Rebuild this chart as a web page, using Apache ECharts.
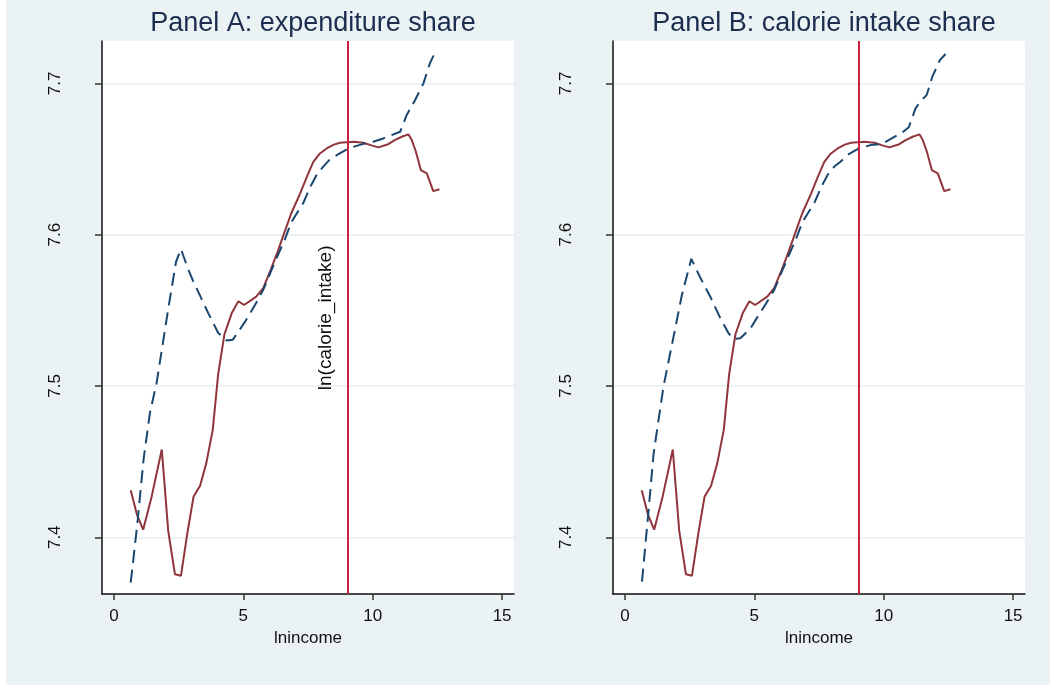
<!DOCTYPE html>
<html>
<head>
<meta charset="utf-8">
<script src="https://cdn.jsdelivr.net/npm/echarts@6/dist/echarts.min.js"></script>
<style>
  html, body { margin: 0; padding: 0; background: #fff; }
  #chart { width: 1050px; height: 685px; }
</style>
</head>
<body>
<div id="chart"></div>
<script>
// red solid line (same in both panels)
var redX = [0.65, 0.89, 1.13, 1.46, 1.85, 2.1, 2.36, 2.59, 2.85, 3.08, 3.33, 3.57, 3.82, 4.03, 4.27, 4.55, 4.81, 5.03, 5.5, 5.77, 6.03, 6.33, 6.6, 6.85, 7.19, 7.45, 7.7, 7.95, 8.22, 8.5, 8.74, 9.0, 9.25, 9.64, 9.95, 10.22, 10.6, 10.85, 11.12, 11.38, 11.51, 11.67, 11.86, 12.09, 12.34, 12.58];
var redY = [7.431, 7.415, 7.405, 7.427, 7.458, 7.404, 7.3755, 7.3745, 7.404, 7.427, 7.434, 7.449, 7.471, 7.508, 7.534, 7.548, 7.556, 7.5535, 7.559, 7.5646, 7.5755, 7.589, 7.602, 7.614, 7.627, 7.638, 7.648, 7.6535, 7.657, 7.6595, 7.6607, 7.661, 7.6614, 7.6607, 7.659, 7.6577, 7.6598, 7.6625, 7.6647, 7.6663, 7.6625, 7.6548, 7.6427, 7.6405, 7.6288, 7.63];

// blue dashed line, panel A
var blueAX = [0.65, 0.9, 1.15, 1.39, 1.65, 1.88, 2.1, 2.4, 2.59, 2.85, 3.07, 3.32, 3.65, 4.03, 4.36, 4.59, 4.81, 5.05, 5.26, 5.5, 5.77, 6.1, 6.35, 6.61, 6.85, 7.1, 7.32, 7.6, 7.85, 8.09, 8.35, 8.61, 9.06, 9.57, 10.02, 10.41, 10.73, 11.06, 11.31, 11.64, 11.96, 12.21, 12.34, 12.58];
var blueAY = [7.37, 7.408, 7.452, 7.482, 7.502, 7.527, 7.551, 7.582, 7.5905, 7.578, 7.569, 7.56, 7.548, 7.535, 7.53, 7.5305, 7.536, 7.542, 7.548, 7.555, 7.5635, 7.577, 7.587, 7.597, 7.608, 7.615, 7.621, 7.632, 7.64, 7.645, 7.6498, 7.6525, 7.657, 7.6597, 7.6614, 7.6636, 7.6658, 7.668, 7.679, 7.689, 7.7, 7.7132, 7.718, 7.7172];

// blue dashed line, panel B
var blueBX = [0.66, 0.9, 1.11, 1.49, 1.88, 2.2, 2.565, 2.9, 3.3, 3.69, 4.0, 4.2, 4.46, 4.85, 5.1, 5.4, 5.77, 6.1, 6.35, 6.61, 6.85, 7.1, 7.32, 7.6, 7.85, 8.09, 8.33, 8.59, 9.04, 9.49, 9.94, 10.26, 10.72, 10.97, 11.23, 11.42, 11.66, 11.88, 12.17, 12.39];
var blueBY = [7.3707, 7.415, 7.4555, 7.4995, 7.5326, 7.56, 7.584, 7.572, 7.559, 7.5447, 7.535, 7.531, 7.5315, 7.538, 7.545, 7.553, 7.5635, 7.577, 7.587, 7.597, 7.608, 7.615, 7.621, 7.632, 7.64, 7.645, 7.6482, 7.6526, 7.657, 7.6592, 7.66, 7.6632, 7.6676, 7.671, 7.6835, 7.688, 7.6923, 7.7044, 7.7154, 7.7194];

var titles = ['Panel A: expenditure share', 'Panel B: calorie intake share'];
var xTicks = [0, 5, 10, 15];
var yTicks = [7.4, 7.5, 7.6, 7.7];
var vlineX = [9.03, 9.04];
var vlineLabel = 'ln(calorie_intake)';

function zip(xs, ys) {
    var out = [];
    for (var i = 0; i < xs.length; i++) out.push([xs[i], ys[i]]);
    return out;
}

var bg = '#eaf2f3';
var font = 'Liberation Sans, Arial, sans-serif';
var lefts = [102, 613];

var chart = echarts.init(document.getElementById('chart'));

var grids = [], xAxes = [], yAxes = [], tits = [], series = [];
for (let p = 0; p < 2; p++) {
    grids.push({
        left: lefts[p], top: 41, width: 412, height: 553,
        show: true, backgroundColor: '#fff', borderWidth: 0
    });
    tits.push({
        text: titles[p],
        left: lefts[p] + 206, top: 5, textAlign: 'center',
        textStyle: { fontFamily: font, fontSize: 27, fontWeight: 'normal', color: '#1c2d4f' }
    });
    xAxes.push({
        gridIndex: p, type: 'value', min: -0.46, max: 15.46,
        name: 'lnincome', nameLocation: 'middle', nameGap: 34,
        nameTextStyle: { fontFamily: font, fontSize: 17, color: '#111' },
        axisLine: { onZero: false, lineStyle: { color: '#111', width: 1.5 } },
        axisTick: { customValues: xTicks, length: 6, lineStyle: { color: '#333', width: 1.5 } },
        axisLabel: { customValues: xTicks, margin: 14, fontFamily: font, fontSize: 17, color: '#111' },
        splitLine: { show: false }
    });
    yAxes.push({
        gridIndex: p, type: 'value', min: 7.3625, max: 7.728,
        axisLine: { show: true, onZero: false, lineStyle: { color: '#111', width: 1.5 } },
        axisTick: { customValues: yTicks, length: 7, lineStyle: { color: '#333', width: 1.5 } },
        axisLabel: {
            customValues: yTicks, rotate: 90, margin: 38, fontFamily: font, fontSize: 17, color: '#111',
            formatter: function (v) { return v.toFixed(1); }
        },
        splitLine: { show: true, lineStyle: { color: bg, width: 2 } }
    });
    series.push({
        type: 'line', xAxisIndex: p, yAxisIndex: p,
        data: zip(redX, redY), symbol: 'none', z: 3,
        lineStyle: { color: '#90353b', width: 2 }
    });
    series.push({
        type: 'line', xAxisIndex: p, yAxisIndex: p,
        data: p === 0 ? zip(blueAX, blueAY) : zip(blueBX, blueBY), symbol: 'none', z: 3,
        lineStyle: { color: '#1a476f', width: 2, type: [13, 7] },
        markLine: {
            silent: true, symbol: 'none', animation: false,
            lineStyle: { color: '#cc1f3f', width: 2, type: 'solid' },
            label: { show: false },
            data: [{ xAxis: vlineX[p] }]
        },
        markPoint: p === 0 ? {
            silent: true, symbol: 'circle', symbolSize: 0, animation: false,
            itemStyle: { color: 'transparent' },
            label: {
                show: true, position: 'inside', rotate: 90, offset: [0, -22], formatter: vlineLabel,
                fontFamily: font, fontSize: 19, color: '#111'
            },
            data: [{ coord: [vlineX[p], 7.545] }]
        } : undefined
    });
}

chart.setOption({
    backgroundColor: bg,
    animation: false,
    title: tits,
    grid: grids,
    xAxis: xAxes,
    yAxis: yAxes,
    series: series,
    graphic: [{ type: 'rect', shape: { x: 0, y: 0, width: 6, height: 685 }, style: { fill: '#fff' }, silent: true }]
});
</script>
</body>
</html>
